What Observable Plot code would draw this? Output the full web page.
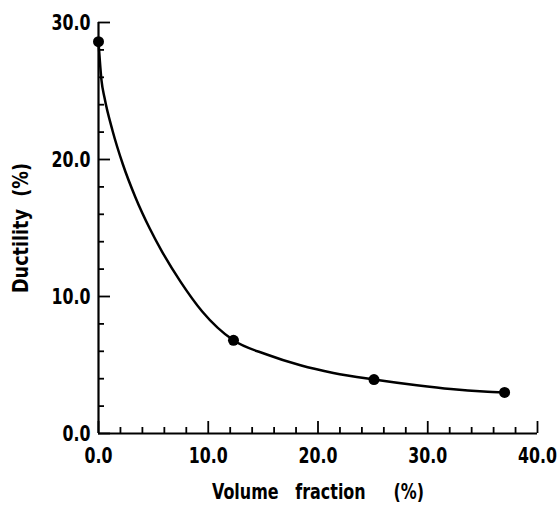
<!DOCTYPE html>
<html>
<head>
<meta charset="utf-8">
<script src="https://cdn.jsdelivr.net/npm/d3@7"></script>
<script src="https://cdn.jsdelivr.net/npm/@observablehq/plot@0.6"></script>
<style>
  html, body { margin: 0; padding: 0; background: #fff; }
</style>
</head>
<body>
<div id="chart"></div>
<script>
// Measured data points (dots)
const volumeFraction = [0, 12.3, 25.1, 37.0];
const ductility = [28.6, 6.8, 3.94, 3.0];

// Points
const curveX = [0, 0.27, 0.55, 1.28, 2.21, 3.37, 4.67, 5.80, 7.47, 9.45, 12.3, 15.4, 18.4, 21.4, 25.1, 29.0, 32.1, 35.1, 37.0];
const curveY = [28.6, 25.8, 24.5, 22.1, 19.67, 17.23, 14.96, 13.26, 11.09, 8.91, 6.8, 5.75, 4.98, 4.42, 3.94, 3.52, 3.24, 3.06, 3.0];

// Tick values
const xMajor = [0, 10, 20, 30, 40];
const xMinor = [2, 4, 6, 8, 12, 14, 16, 18, 22, 24, 26, 28, 32, 34, 36, 38];
const yMajor = [0, 10, 20, 30];
const yMinor = [2, 4, 6, 8, 12, 14, 16, 18, 22, 24, 26, 28];

const xTitle = "Volume\u00a0\u00a0\u00a0fraction\u00a0\u00a0\u00a0\u00a0\u00a0(%)";
const yTitle = "Ductility\u00a0\u00a0(%)";

const points = volumeFraction.map((x, i) => ({x, y: ductility[i]}));
const curve = curveX.map((x, i) => ({x, y: curveY[i]}));

const font = "'DejaVu Sans Condensed', 'DejaVu Sans', sans-serif";

const chart = Plot.plot({
  width: 559,
  height: 507,
  marginLeft: 98,
  marginRight: 22,
  marginTop: 22,
  marginBottom: 74,
  x: {domain: [0, 40]},
  y: {domain: [0, 30]},
  style: {fontFamily: font, fontSize: "22px", fontWeight: "bold", color: "#000", background: "#fff"},
  marks: [
    Plot.axisX({ticks: xMinor, tickSize: -6, tickFormat: () => "", strokeWidth: 1.8, label: null}),
    Plot.axisX({ticks: xMajor, tickSize: -12, tickFormat: () => "", strokeWidth: 1.8, label: null}),
    Plot.axisY({ticks: yMinor, tickSize: -6, tickFormat: () => "", strokeWidth: 1.8, label: null}),
    Plot.axisY({ticks: yMajor, tickSize: -12, tickFormat: () => "", strokeWidth: 1.8, label: null}),
    Plot.axisX({ticks: xMajor, tickSize: 0, tickPadding: 14, tickFormat: d => d.toFixed(1),
      label: xTitle, labelAnchor: "center", labelArrow: "none", labelOffset: 65}),
    Plot.axisY({ticks: yMajor, tickSize: 0, tickPadding: 8, tickFormat: d => d.toFixed(1),
      label: yTitle, labelAnchor: "center", labelArrow: "none", labelOffset: 86}),
    Plot.ruleX([0], {strokeWidth: 2.2}),
    Plot.ruleY([0], {strokeWidth: 2.2}),
    Plot.line(curve, {x: "x", y: "y", curve: "monotone-x", strokeWidth: 2.5, stroke: "#000"}),
    Plot.dot(points, {x: "x", y: "y", r: 5.5, fill: "#000", stroke: "none"})
  ]
});
document.getElementById("chart").appendChild(chart);

// Narrow the tick label glyphs to match the condensed plotter lettering
const tickTexts = d3.select(chart).selectAll('g[aria-label="x-axis tick label"] text, g[aria-label="y-axis tick label"] text');
let refLen = null;
tickTexts.each(function () {
  if (this.textContent === "30.0" && refLen === null) refLen = this.getComputedTextLength();
});
const k = refLen ? 39 / refLen : 0.8;
tickTexts.each(function () {
  const t = this.getAttribute("transform") || "";
  this.setAttribute("transform", t + ` scale(${k},1)`);
});
d3.select(chart).selectAll('g[aria-label="x-axis label"] text')
  .attr("textLength", 212).attr("lengthAdjust", "spacingAndGlyphs");
d3.select(chart).selectAll('g[aria-label="y-axis label"] text')
  .attr("textLength", 130).attr("lengthAdjust", "spacingAndGlyphs");
</script>
</body>
</html>
